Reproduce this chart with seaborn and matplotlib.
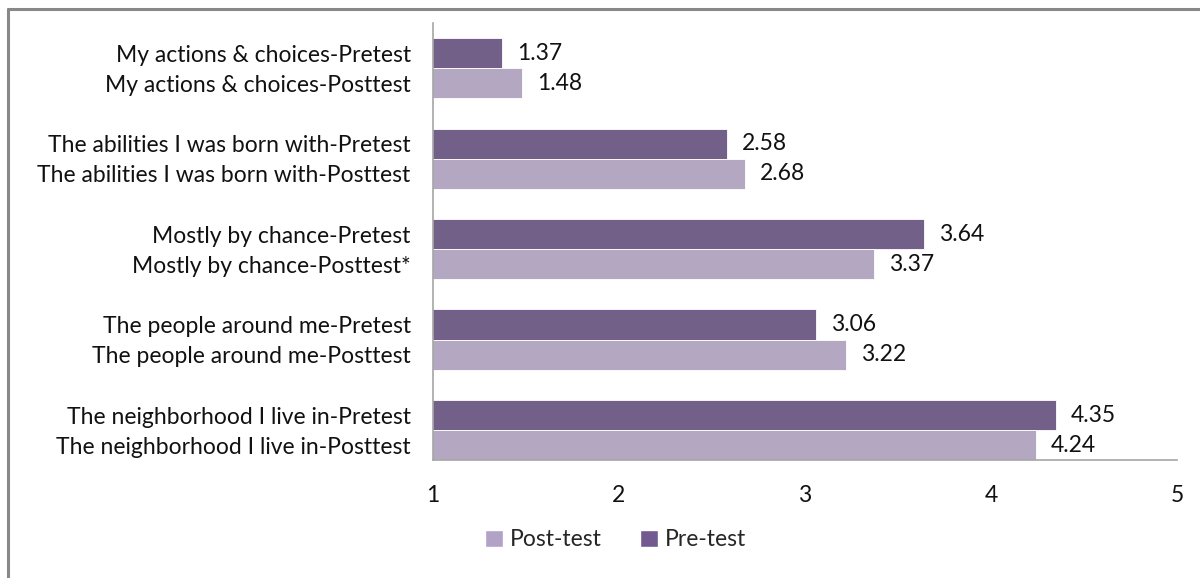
import matplotlib
matplotlib.use("Agg")
import matplotlib.pyplot as plt
from matplotlib.lines import Line2D
from matplotlib.patches import Patch
import seaborn as sns
import pandas as pd
import numpy as np

categories = ["My actions & choices", "The abilities I was born with",
              "Mostly by chance", "The people around me", "The neighborhood I live in"]
pre_values = [1.37, 2.58, 3.64, 3.06, 4.35]
post_values = [1.48, 2.68, 3.37, 3.22, 4.24]
post_suffix = ["-Posttest", "-Posttest", "-Posttest*", "-Posttest", "-Posttest"]
x_ticks = [1, 2, 3, 4, 5]

PRE_COLOR = "#72598F"
POST_COLOR = "#B3A2C7"

sns.set_theme(style="white")
plt.rcParams['font.family'] = ['Lato', 'DejaVu Sans']

df = pd.DataFrame({
    "category": categories * 2,
    "value": pre_values + post_values,
    "series": ["Pre-test"] * 5 + ["Post-test"] * 5,
})

fig = plt.figure(figsize=(12, 5.78), dpi=100)
ax = fig.add_axes([0.3608, 0.2042, 0.62, 0.7560])

sns.barplot(data=df, y="category", x="value", hue="series",
            hue_order=["Pre-test", "Post-test"], order=categories,
            palette=[PRE_COLOR, POST_COLOR], orient="h", width=0.667,
            ax=ax, legend=False, errorbar=None,
            edgecolor="white", linewidth=0.6)

ax.set_xlim(1, 5)
ax.set_ylim(4.33, -0.5)

fs = 16.5
tc = "#111111"
for i, (pv, qv) in enumerate(zip(pre_values, post_values)):
    ax.text(pv + 0.08, i - 1/6, f"{pv:.2f}", va="center", ha="left", fontsize=fs, color=tc)
    ax.text(qv + 0.08, i + 1/6, f"{qv:.2f}", va="center", ha="left", fontsize=fs, color=tc)

yt = []
yl = []
for i, c in enumerate(categories):
    yt += [i - 1/6, i + 1/6]
    yl += [c + "-Pretest", c + post_suffix[i]]
ax.set_yticks(yt)
ax.set_yticklabels(yl, fontsize=fs, color=tc)
ax.set_xticks(x_ticks)
ax.set_xticklabels([str(t) for t in x_ticks], fontsize=fs, color=tc)
ax.tick_params(axis="y", length=0, pad=16)
ax.tick_params(axis="x", length=0, pad=18)
ax.set_xlabel("")
ax.set_ylabel("")

for s in ["top", "right"]:
    ax.spines[s].set_visible(False)
for s in ["left", "bottom"]:
    ax.spines[s].set_color("#A6A6A6")
    ax.spines[s].set_linewidth(1.2)

handles = [Patch(facecolor=POST_COLOR, label="Post-test"),
           Patch(facecolor=PRE_COLOR, label="Pre-test")]
fig.legend(handles=handles, loc="center", bbox_to_anchor=(0.513, 0.066),
           ncol=2, frameon=False, fontsize=fs, handlelength=0.75, handleheight=0.75,
           handletextpad=0.3, columnspacing=1.7)

fig.add_artist(Line2D([0.0065, 0.0065], [0, 0.984], color="#888888", lw=2.2, transform=fig.transFigure))
fig.add_artist(Line2D([0.0065, 1.0], [0.984, 0.984], color="#888888", lw=2.2, transform=fig.transFigure))

fig.savefig("out.png", dpi=100)
